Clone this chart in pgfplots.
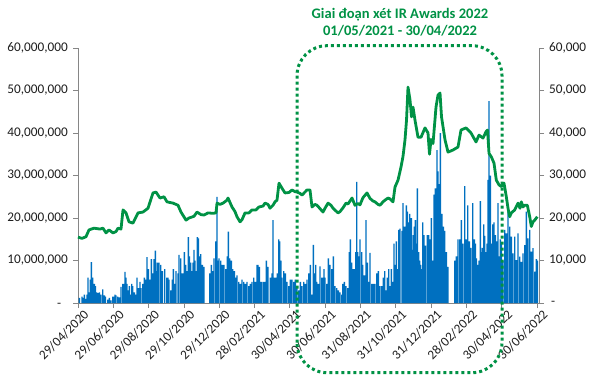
\documentclass[border=0pt]{standalone}
\usepackage{fontspec}
\setmainfont{Carlito}
\usepackage{pgfplots}
\usepackage{pgfplotstable}
\pgfplotsset{compat=1.18}
\definecolor{barblue}{RGB}{0,112,192}
\definecolor{lgreen}{RGB}{0,146,69}
\definecolor{axgray}{RGB}{134,134,134}
\definecolor{lblack}{RGB}{30,30,30}

\pgfplotstableread{
x v
1.3 1.2
4 1.5
5.3 1.2
6.3 2
8 1
9 2
10 6
11.3 2.5
12.3 5.5
13.3 9.6
14.7 6
16.3 4.5
17.3 4
18.7 2.5
20 2.3
21.3 2.5
23 2
24.7 3.2
26.3 1.8
27.3 1.5
29.7 0.8
31.3 1.2
33 0.6
34.7 1.5
35.7 1.5
37 2
38 1.8
39.7 1.5
41.3 1.3
43 3.8
44.7 4.5
45.7 4.5
47 7.3
48 6
49 4.5
50.3 3
51.3 4
52.3 2
53.7 4.5
54.7 4
56.3 2.5
58 2
59 6
60.3 3.5
62 5
63 3.5
64.7 4.5
66.3 6
68 5.5
69 10.8
70.3 8
71.7 5.5
73.3 10.3
74.7 7
76 10.3
77.3 12.3
78.3 7.5
79.3 9.5
81 9.5
82.7 9
84.3 7.5
86.7 8
88.7 6
90 6
91 5.5
92.7 3
94.3 5.5
95.3 8
96.7 4.5
98 7.5
100 7
101 11.3
102.7 10.5
104.3 7
105.3 7
106.3 12
107.7 9
109.3 7.5
110.3 15.5
111.3 11
112.7 9.5
113.7 7.5
115 9.5
116 12.5
117 10
118 7.5
119.3 15.5
120.3 15.2
121.3 11
122.7 11.5
124.3 9
126 8.5
131.7 7
133.3 9
135 7.5
136 10.5
137.7 14.5
139 25
140 10
141 10.5
142.7 10
144.3 9
146 9
147.7 8
149.3 11
150.3 16.8
151.7 10.5
153.3 10
154.7 8
156.3 7.5
157.3 6
159 6.5
160.7 5
162.3 4.5
164 5.5
165.7 5
167.3 4.5
169 5
170.7 4
172.3 4.5
174 5
175.7 6
177.3 5
179 9
180 9
181.3 8.5
183 5
184 5
185.7 5
187.3 5
188.3 10
190 8.5
192.3 6
194 7
195 19.5
196.3 6
198 6
199.3 7
200.7 15
201.7 14.5
203 10
204 6
205.7 7.5
207.3 7
209 5
210.7 4
212.3 5.5
214 5.5
215.7 5
217.3 5.5
219 4
220.7 3
222.3 5
224 4
225.7 5
227.3 4.5
229 5.5
230.7 7
232.3 9
233.7 2
235.3 13.7
236.3 7
237.7 9
238.7 5
240.3 4.5
242 8.6
243.7 6
244.7 6
246 8
247 6
248.7 4.5
250.3 10.5
252 9
253.7 8
255.3 11
257 4
258.7 3.5
260.3 3
262 2.5
263.7 2
264.7 4.5
266.3 5
268 4
269.7 3.5
271.3 12
272.3 15
273.7 9.5
275.3 8
276.3 8
277.7 12
278.7 28.5
279.7 12
281 11
282 15
283.7 12
284.7 9
286.3 6.5
288 19.5
289.3 9.5
290.7 5
292 11.8
293.7 4.5
295.3 4.5
297 4.5
298.7 7
300.3 7.5
302 4
303.7 4
305.3 6
306.7 7.5
308 3
309.3 6
310.7 8
311.7 4
313.3 8
315 5
316 14
317.3 9
318.3 14.5
319.3 8
320.7 17.2
322 17.5
324 17
325 23.5
326 18
327.3 18
328.3 23
329.3 21.5
330.7 19
331.7 21
333.3 20
334.3 12.5
335.3 16
336.3 18
337.3 19.5
338.3 14
339.3 27
340.7 12
341.7 10
342.7 9
343.7 8
344.7 19
346 16
347.3 13.5
349.3 16
350.7 16
352.3 15
353.3 20
354.3 10
356 25.5
357.3 27
359 36
360 31
361 28
362.3 40
364 21
365.3 18
366.7 17
368.3 12
370 8.5
376.7 10
378.3 11
380 15
381.7 15
383.3 19.5
385 14
386.7 27.5
388.3 15
389.7 23
391.3 14.5
393 13
394.7 23.5
396.3 15
397.3 14
398.5 10.5
399.7 9
401 10
402.3 24
403.3 12
404.3 13
405.7 18.5
406.7 15.8
408 12
409 14
410 29
411 47.5
412.3 30
413.3 14
414.7 18.5
416 19
417.3 16
418.3 14.5
420 23.5
421 11
422.3 15
423.3 14
425 10
426.7 17.2
428.3 16.4
430 21.5
431.7 18
433.3 15.6
435 11.7
436.7 15.6
438.3 10.1
440 16.4
441.7 10.9
443.3 9.7
445 11.7
446.7 13.6
448.3 21.5
450 15.2
451.7 17.2
453.3 12.1
455 12.9
456.7 7.4
458.3 10.3
459.3 10
}\voltable

\pgfplotstableread{
x p
0 15500
4 15200
8 15600
11 17200
16 17600
22 17400
25 17600
28 16500
31 17200
35 16500
38 16800
40 17600
43 17400
45 21900
48 21200
51 19100
55 18800
60 21200
65 21400
70 22300
75 25900
78 26100
82 24700
86 25000
89 23800
95 23500
100 23000
103 21400
108 19500
111 20000
116 20400
119 21400
123 20800
126 20700
130 21200
135 21100
138 21200
139 23500
142 23200
145 23500
149 24200
150 24700
154 22600
157 21500
159 20300
162 19100
164 19600
167 21200
171 21200
174 21900
178 21900
181 22600
185 22800
187 23500
190 23200
192 22300
195 23000
197 23800
199 24200
201 28200
204 27000
207 25900
211 26000
214 26600
217 26200
219 26100
222 25800
224 25400
229 26600
232 26600
234 22600
237 23200
239 23000
242 22200
245 21400
247 22300
250 23500
253 23000
255 22300
260 21200
262 21500
265 22400
268 23500
270 23300
274 24700
277 23000
280 23400
282 23100
285 24800
289 25900
292 24600
295 24000
297 23800
300 23200
302 23000
305 23800
307 24200
310 24700
312 24500
315 23800
317 27300
320 28900
323 32000
325 34500
327 38400
328.5 43000
330 50800
332 47800
333.5 43800
335 46100
337 43000
340 39000
343 39000
347 41200
350 40000
351.5 35000
353 38500
355 37500
358 46100
360 48900
362 49400
363.5 43800
367 38400
370 35500
375 36000
380 36700
383 40700
388 41200
393 40000
398 37900
401 39500
405 38800
408 40300
409.5 40700
411 35200
413.3 34400
416 32900
418.3 28900
421 27800
423.3 27400
426 28200
428.3 25000
430 22300
431.7 20300
433.3 21200
436.7 21900
440 23500
442 22300
443.3 23800
445 22600
446.7 23000
449.3 23000
451.7 20300
453.3 18000
455 19100
456.7 19500
459.3 20300
}\pricetable

\begin{document}
\begin{tikzpicture}[x=1bp,y=1bp]
\path[use as bounding box] (0,0) rectangle (597,380);
\pgfplotsset{
  every axis/.append style={
    at={(78bp,77bp)}, anchor=south west, scale only axis,
    width=461bp, height=255bp, xmin=0, xmax=461,
    axis line style={axgray, line width=0.75bp},
    tick style={axgray, line width=0.75bp},
    tick align=outside, major tick length=5bp,
    ticklabel style={font=\fontsize{13.3}{16}\selectfont, text=lblack},
    /pgf/number format/assume math mode=true,
    scaled y ticks=false, scaled x ticks=false,
    clip=false,
  }
}
\begin{axis}[
  ymin=0, ymax=60,
  axis x line*=bottom, axis y line*=left,
  xtick={0,35.3,70.6,105.9,141.2,176.5,211.8,247.1,282.4,317.7,353.0,388.3,423.6,458.9},
  xticklabels={29/04/2020,29/06/2020,29/08/2020,29/10/2020,29/12/2020,28/02/2021,30/04/2021,30/06/2021,31/08/2021,31/10/2021,31/12/2021,28/02/2022,30/04/2022,30/06/2022},
  xticklabel style={rotate=45, anchor=north east, inner sep=0pt, xshift=3bp, yshift=-4bp},
  ytick={0,10,20,30,40,50,60},
  yticklabels={{-\phantom{0}},{10,000,000},{20,000,000},{30,000,000},{40,000,000},{50,000,000},{60,000,000}},
  yticklabel style={anchor=east, inner sep=0pt, xshift=-5bp},
]
\addplot[ybar, bar width=1.4, fill=barblue, draw=none] table[x=x, y=v] {\voltable};
\end{axis}
\begin{axis}[
  ymin=0, ymax=60000,
  axis x line=none, axis y line*=right,
  xtick=\empty,
  ytick={0,10000,20000,30000,40000,50000,60000},
  yticklabels={{\hspace{2bp}-},{10,000},{20,000},{30,000},{40,000},{50,000},{60,000}},
  yticklabel style={anchor=west, inner sep=0pt, xshift=5bp},
]
\addplot[lgreen, line width=2.8bp, line join=round, no marks] table[x=x, y=p] {\pricetable};
\end{axis}
\draw[lgreen, line width=3bp, dash pattern=on 3bp off 3bp, rounded corners=30bp] (297,7.3) rectangle (502,334.3);
\node[font=\fontsize{14.6}{17}\selectfont\bfseries, text=lgreen, anchor=base] at (400,361.5) {Giai đoạn xét IR Awards 2022};
\node[font=\fontsize{14.6}{17}\selectfont\bfseries, text=lgreen, anchor=base] at (400,344.5) {01/05/2021 - 30/04/2022};
\end{tikzpicture}
\end{document}
